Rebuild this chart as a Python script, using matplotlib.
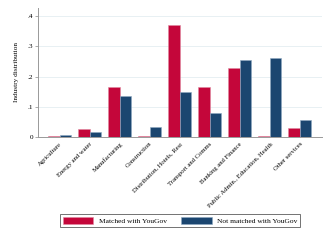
import numpy as np
import matplotlib
matplotlib.use("Agg")
import matplotlib.pyplot as plt

industries = [
    "Agriculture",
    "Energy and water",
    "Manufacturing",
    "Construction",
    "Distribution, Hotels, Rest",
    "Transport and Comms",
    "Banking and Finance",
    "Public Admin., Education, Health",
    "Other services",
]
matched = [0.002, 0.026, 0.165, 0.004, 0.369, 0.165, 0.227, 0.004, 0.029]
not_matched = [0.005, 0.018, 0.134, 0.034, 0.149, 0.079, 0.255, 0.260, 0.056]

red = "#C4063A"
navy = "#1B4670"

plt.rcParams["font.family"] = ["Liberation Serif", "DejaVu Serif"]

fig = plt.figure(figsize=(3.3, 2.4), dpi=100)
ax = fig.add_axes([38 / 330, 1 - 137 / 240, (322 - 38) / 330, (137 - 8) / 240])

x = np.arange(len(industries))
w = 0.385
ax.bar(x - w / 2, matched, w, color=red, edgecolor="#E08AA0", linewidth=0.4,
       label="Matched with YouGov", zorder=3)
ax.bar(x + w / 2, not_matched, w, color=navy, edgecolor="#8FA8C0", linewidth=0.4,
       label="Not matched with YouGov", zorder=3)

ax.set_xlim(-0.72, 8.74)
ax.set_ylim(0, 0.4265)
ax.set_yticks([0, 0.1, 0.2, 0.3, 0.4])
ax.set_yticklabels(["0", ".1", ".2", ".3", ".4"], fontsize=5.2)
ax.yaxis.grid(True, color="#E4EEF1", linewidth=0.6, zorder=0)
ax.set_axisbelow(True)

ax.set_xticks(x)
ax.set_xticklabels(industries, rotation=45, ha="right", rotation_mode="anchor",
                   fontsize=4.8)
ax.tick_params(axis="x", length=0, pad=3)
ax.tick_params(axis="y", length=2, width=0.5, color="#888888", pad=1.5)

ax.set_ylabel("Industry distribution", fontsize=5.2, labelpad=6)

for s in ["top", "right"]:
    ax.spines[s].set_visible(False)
for s in ["left", "bottom"]:
    ax.spines[s].set_color("#999999")
    ax.spines[s].set_linewidth(0.7)

leg = fig.legend(loc="center", bbox_to_anchor=(180 / 330, 1 - 220.5 / 240),
                 ncol=2, fontsize=5.4, frameon=True, fancybox=False,
                 edgecolor="#333333", handlelength=4.1, handleheight=1.1,
                 columnspacing=1.9, handletextpad=0.7, borderpad=0.4,
                 borderaxespad=0)
leg.get_frame().set_linewidth(0.6)

fig.savefig("out.png", dpi=100, facecolor="white")
